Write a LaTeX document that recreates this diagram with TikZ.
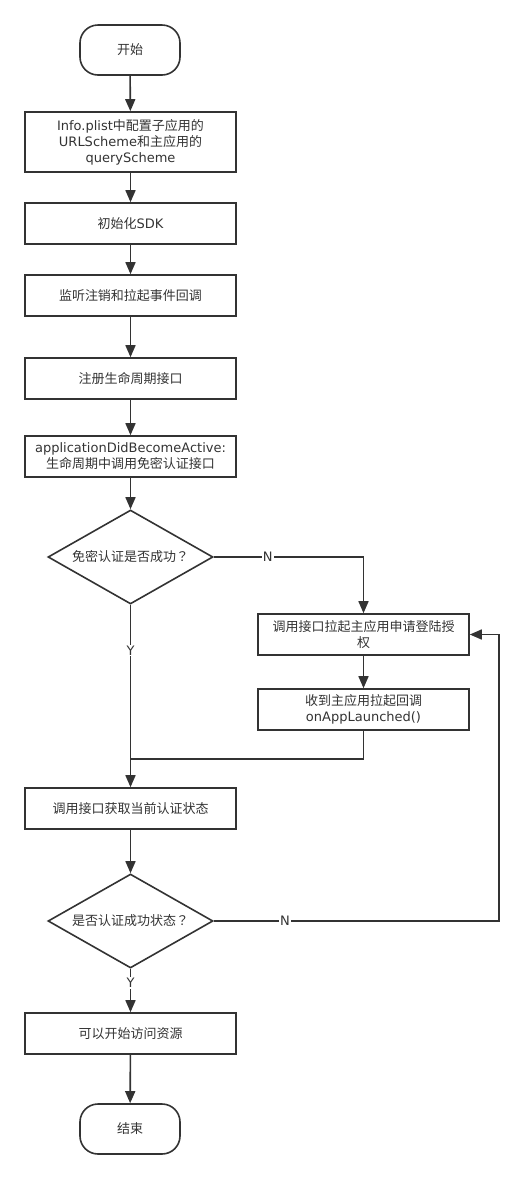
\documentclass[tikz,border=0pt]{standalone}
\usepackage{fontspec}
\setmainfont{DejaVu Sans}
\newfontfamily\cjkfont{Noto Sans CJK SC}
\newfontfamily\cjkpunct{Noto Sans CJK TC}
\usepackage{tikz}
\usetikzlibrary{shapes.geometric, arrows.meta, positioning, calc}
\definecolor{flowgray}{RGB}{51, 51, 51}
\newcommand{\zh}[1]{{\cjkfont #1}}
\newcommand{\zhq}{{\cjkpunct ？}}

\tikzset{
  terminal/.style={draw=flowgray, line width=1.6pt, rounded corners=18pt, minimum width=100pt, minimum height=50pt, text=flowgray},
  process/.style={draw=flowgray, line width=1.6pt, minimum width=211pt, minimum height=41pt, align=center, text=flowgray, inner sep=2pt},
  decision/.style={draw=flowgray, line width=1.6pt, diamond, shape aspect=1.75, minimum width=165pt, minimum height=94pt, inner sep=0pt, text=flowgray},
  flow/.style={draw=flowgray, line width=1.6pt, -{Triangle[length=12pt, width=10pt]}},
  joint/.style={draw=flowgray, line width=1.6pt},
  branch/.style={fill=white, text=flowgray, inner sep=1pt}
}

\begin{document}
\begin{tikzpicture}[x=1pt, y=-1pt, font=\fontsize{13}{16}\selectfont]
  \useasboundingbox (0,0) rectangle (524,1179);

  \node[terminal] (start) at (130,50) {\zh{开始}};
  \node[process, minimum height=60pt] (plist) at (130.5,142) {Info.plist\zh{中配置子应用的}\\URLScheme\zh{和主应用的}\\queryScheme};
  \node[process] (initsdk) at (130.5,223.5) {\zh{初始化}SDK};
  \node[process] (listen) at (130.5,295.5) {\zh{监听注销和拉起事件回调}};
  \node[process] (lifecycle) at (130.5,378.5) {\zh{注册生命周期接口}};
  \node[process] (active) at (130.5,456.5) {applicationDidBecomeActive:\\\zh{生命周期中调用免密认证接口}};
  \node[decision] (checkfree) at (130.5,557) {\zh{免密认证是否成功}\zhq};
  \node[process] (launchmain) at (363.5,634.5) {\zh{调用接口拉起主应用申请登陆授}\\\zh{权}};
  \node[process] (callback) at (363.5,709.5) {\zh{收到主应用拉起回调}\\onAppLaunched()};
  \node[process] (getstate) at (130.5,808.5) {\zh{调用接口获取当前认证状态}};
  \node[decision] (checkstate) at (130.5,921) {\zh{是否认证成功状态}\zhq};
  \node[process] (access) at (130.5,1033.5) {\zh{可以开始访问资源}};
  \node[terminal] (finish) at (130,1129) {\zh{结束}};

  \coordinate (merge) at (130.5,759);
  \coordinate (loopright) at (499,921);

  \draw[flow] (start) -- (plist);
  \draw[flow] (plist) -- (initsdk);
  \draw[flow] (initsdk) -- (listen);
  \draw[flow] (listen) -- (lifecycle);
  \draw[flow] (lifecycle) -- (active);
  \draw[flow] (active) -- (checkfree);
  \draw[flow] (checkfree.east) -| node[branch, pos=0.18] {N} (launchmain.north);
  \draw[flow] (checkfree.south) -- node[branch, pos=0.25] {Y} (getstate.north);
  \draw[flow] (launchmain) -- (callback);
  \draw[joint] (callback.south) |- (merge);
  \draw[flow] (getstate) -- (checkstate);
  \draw[flow] (checkstate.east) -- node[branch, pos=0.25] {N} (loopright) |- (launchmain.east);
  \draw[flow] (checkstate.south) -- node[branch, pos=0.33] {Y} (access.north);
  \draw[flow] (access) -- (finish);
\end{tikzpicture}
\end{document}
